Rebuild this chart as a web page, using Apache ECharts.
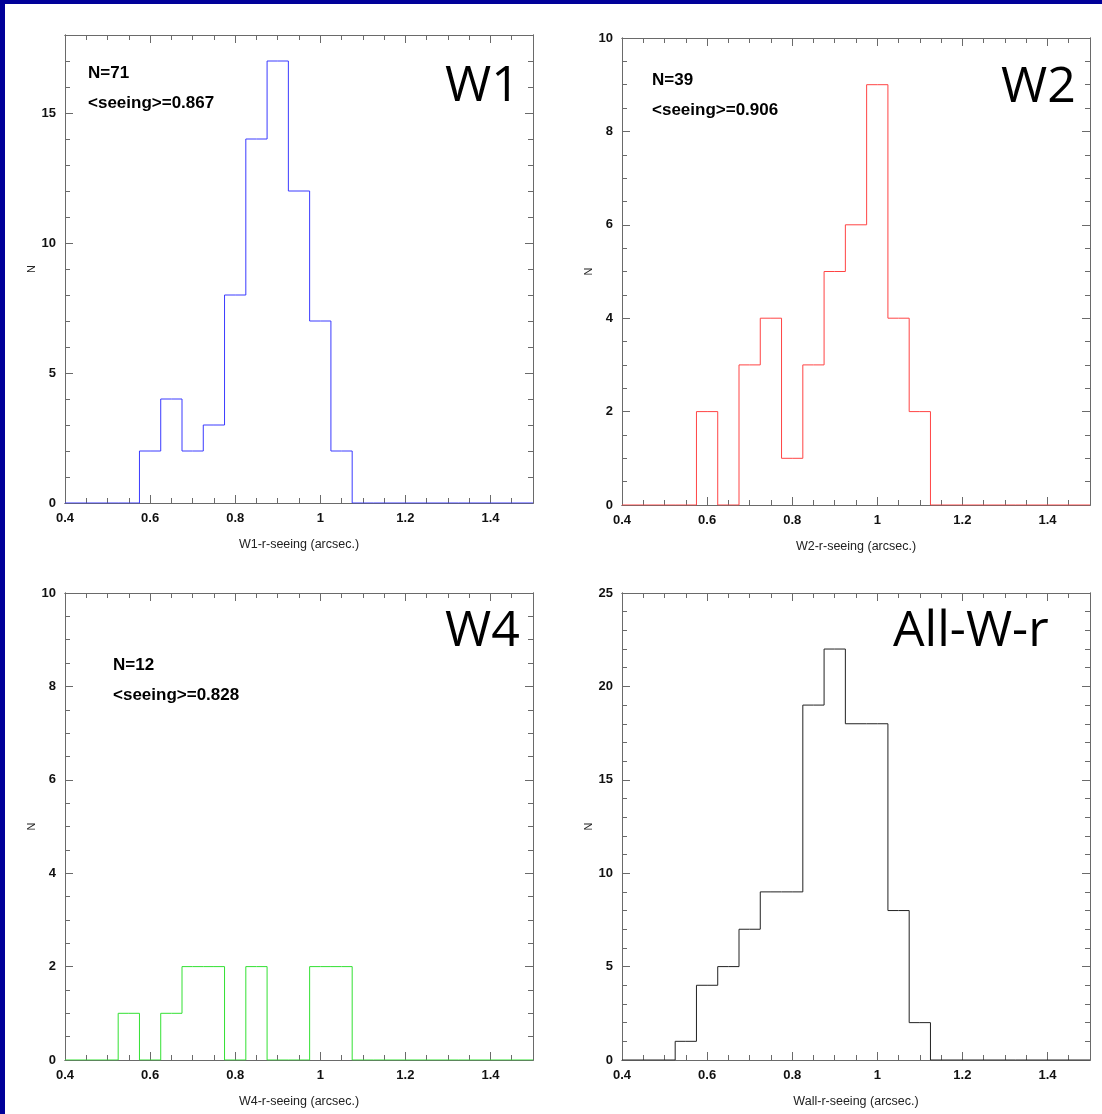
<!DOCTYPE html>
<html lang="en">
<head>
    <meta charset="UTF-8">
    <title>r-seeing histograms</title>
    <script src="https://cdn.jsdelivr.net/npm/echarts@6/dist/echarts.min.js"></script>
    <style>
        html, body { margin: 0; padding: 0; background: #fff; }
        #chart { width: 1102px; height: 1114px; }
    </style>
</head>
<body>
<div id="chart"></div>
<script>
    // bin centres (bin width 0.05 arcsec)
    var binCenters = [0.50, 0.55, 0.60, 0.65, 0.70, 0.75, 0.80, 0.85, 0.90, 0.95, 1.00, 1.05, 1.10, 1.15];
    var w1Counts  = [0, 0, 2, 4, 2, 3, 8, 14, 17, 12, 7, 2, 0, 0];
    var w2Counts  = [0, 0, 2, 0, 3, 4, 1, 3, 5, 6, 9, 4, 2, 0];
    var w4Counts  = [0, 1, 0, 1, 2, 2, 0, 2, 0, 0, 2, 2, 0, 0];
    var allCounts = [0, 1, 4, 5, 7, 9, 9, 19, 22, 18, 18, 8, 2, 0];
    var xTickLabels = ['0.4', '0.6', '0.8', '1', '1.2', '1.4'];

    var panels = [
        {name: 'W1', xName: 'W1-r-seeing (arcsec.)', counts: w1Counts, color: '#3a3aff', ymax: 18, major: 5, minor: 1,
         left: 65, top: 35, w: 468, h: 468, lines: ['N=71', '<seeing>=0.867'], tx: 88, ty: 75, bx: 445, by: 95},
        {name: 'W2', xName: 'W2-r-seeing (arcsec.)', counts: w2Counts, color: '#ff4444', ymax: 10, major: 2, minor: 0.5,
         left: 622, top: 38, w: 468, h: 467, lines: ['N=39', '<seeing>=0.906'], tx: 652, ty: 82, bx: 1001, by: 96},
        {name: 'W4', xName: 'W4-r-seeing (arcsec.)', counts: w4Counts, color: '#33e033', ymax: 10, major: 2, minor: 0.5,
         left: 65, top: 593, w: 468, h: 467, lines: ['N=12', '<seeing>=0.828'], tx: 113, ty: 667, bx: 445, by: 640},
        {name: 'All-W-r', xName: 'Wall-r-seeing (arcsec.)', counts: allCounts, color: '#222222', ymax: 25, major: 5, minor: 1,
         left: 622, top: 593, w: 468, h: 467, lines: [], tx: 0, ty: 0, bx: 893, by: 640}
    ];

    var axisColor = '#6a6a6a';
    var grids = [], xAxes = [], yAxes = [], series = [], graphics = [];

    // navy frame (top and left edges)
    graphics.push({type: 'rect', shape: {x: 0, y: 0, width: 1102, height: 4}, style: {fill: '#000099'}});
    graphics.push({type: 'rect', shape: {x: 0, y: 0, width: 5, height: 1114}, style: {fill: '#000099'}});

    panels.forEach(function (p, g) {
        grids.push({left: p.left, top: p.top, width: p.w, height: p.h});
        var xBase = xAxes.length, yBase = yAxes.length;
        // main x axis (bottom, labelled), minor bottom, major top, minor top
        [['bottom', 0.2, 8, true], ['bottom', 0.05, 5, false], ['top', 0.2, 8, false], ['top', 0.05, 5, false]].forEach(function (a, k) {
            xAxes.push({
                gridIndex: g, type: 'value', position: a[0], min: 0.4, max: 1.5, interval: a[1],
                name: k === 0 ? p.xName : '', nameLocation: 'middle', nameGap: 35,
                nameTextStyle: {fontSize: 12.5, color: '#222', fontFamily: 'Liberation Sans'},
                axisLine: {show: true, onZero: false, lineStyle: {color: axisColor, width: 1}},
                axisTick: {show: true, inside: true, length: a[2], lineStyle: {color: axisColor}},
                axisLabel: {show: a[3], showMaxLabel: false, margin: 9, fontSize: 13, fontWeight: 'bold', color: '#111',
                    fontFamily: 'Liberation Sans',
                    formatter: function (v) { return xTickLabels[Math.round((v - 0.4) / 0.2)] || ''; }},
                splitLine: {show: false}
            });
        });
        [['left', p.major, 8, true], ['left', p.minor, 5, false], ['right', p.major, 8, false], ['right', p.minor, 5, false]].forEach(function (a, k) {
            yAxes.push({
                gridIndex: g, type: 'value', position: a[0], min: 0, max: p.ymax, interval: a[1],
                name: k === 0 ? 'N' : '', nameLocation: 'middle', nameGap: 21, nameRotate: 90,
                nameTextStyle: {fontSize: 11, color: '#222', fontFamily: 'Liberation Sans'},
                axisLine: {show: true, onZero: false, lineStyle: {color: axisColor, width: 1}},
                axisTick: {show: true, inside: true, length: a[2], lineStyle: {color: axisColor}},
                axisLabel: {show: a[3], showMaxLabel: p.ymax % p.major === 0, margin: 9, fontSize: 13, fontWeight: 'bold',
                    color: '#111', fontFamily: 'Liberation Sans'},
                splitLine: {show: false}
            });
        });

        var data = [[0.4, 0]];
        for (var i = 0; i < binCenters.length; i++) {
            data.push([binCenters[i], p.counts[i]]);
        }
        data.push([1.5, 0]);
        series.push({
            type: 'line', step: 'middle', xAxisIndex: xBase, yAxisIndex: yBase,
            data: data, symbol: 'none', silent: true, z: 5,
            lineStyle: {color: p.color, width: 1}
        });

        p.lines.forEach(function (t, j) {
            graphics.push({type: 'text', left: p.tx, top: p.ty - 10 + j * 30, z: 10,
                style: {text: t, fontSize: 17, fontWeight: 'bold', fill: '#000', fontFamily: 'Liberation Sans'}});
        });
        graphics.push({type: 'text', left: p.bx, top: p.by - 33, z: 10,
            style: {text: p.name, fontSize: 50, fill: '#000', fontFamily: 'Open Sans'}});
    });

    var myChart = echarts.init(document.getElementById('chart'));
    myChart.setOption({
        animation: false,
        backgroundColor: '#fff',
        grid: grids,
        xAxis: xAxes,
        yAxis: yAxes,
        series: series,
        graphic: graphics
    });
</script>
</body>
</html>
